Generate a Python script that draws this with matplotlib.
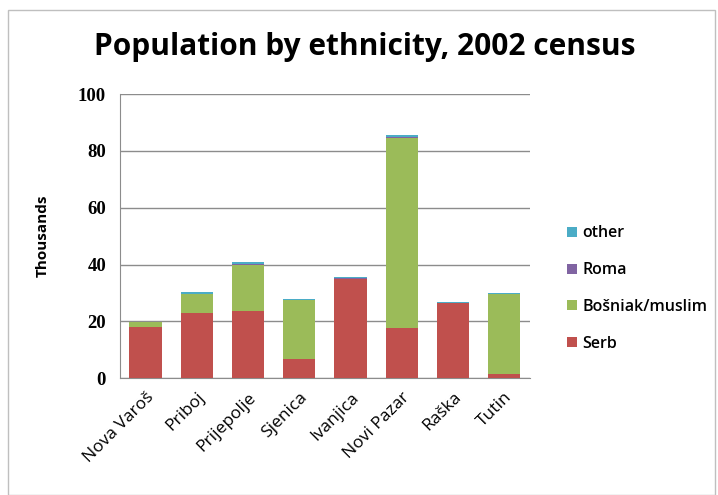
import matplotlib.pyplot as plt
import numpy as np
from matplotlib.patches import Rectangle

# Population by ethnicity (thousands), 2002 census
towns = ['Nova Varoš', 'Priboj', 'Prijepolje', 'Sjenica',
         'Ivanjica', 'Novi Pazar', 'Raška', 'Tutin']
serb = [18.1, 22.8, 23.5, 6.7, 34.9, 17.5, 26.3, 1.5]
bosniak = [1.6, 6.7, 16.5, 20.7, 0.1, 67.0, 0.1, 28.0]
roma = [0.0, 0.1, 0.1, 0.1, 0.2, 0.3, 0.1, 0.0]
other = [0.1, 0.7, 0.8, 0.3, 0.4, 0.8, 0.4, 0.4]

colors = {'Serb': '#C0504D', 'Bošniak/muslim': '#9BBB59',
          'Roma': '#8064A2', 'other': '#4BACC6'}

fig = plt.figure(figsize=(7.18, 4.95), dpi=100)
ax = fig.add_axes([0.167, 0.236, 0.571, 0.574])

x = np.arange(len(towns))
w = 0.63
bottom = np.zeros(len(towns))
bars = []
for name, vals in [('Serb', serb), ('Bošniak/muslim', bosniak),
                   ('Roma', roma), ('other', other)]:
    b = ax.bar(x, vals, w, bottom=bottom, color=colors[name], label=name, zorder=3)
    bars.append(b)
    bottom += np.array(vals)

ax.set_xlim(-0.5, len(towns) - 0.5)
ax.set_ylim(0, 100)
ax.set_yticks(range(0, 101, 20))
ax.yaxis.grid(True, color='#8c8c8c', linewidth=1, zorder=0)
for s in ['top', 'right']:
    ax.spines[s].set_visible(False)
ax.spines['left'].set_color('#8c8c8c')
ax.spines['bottom'].set_color('#8c8c8c')
ax.tick_params(axis='both', length=0)
ax.tick_params(axis='y', pad=10)
ax.tick_params(axis='x', pad=8)

ax.set_xticks(x)
ax.set_xticklabels(towns, rotation=45, ha='right', rotation_mode='anchor',
                   fontsize=12.5, family='Open Sans')
for lbl in ax.get_yticklabels():
    lbl.set_fontfamily('Liberation Serif')
    lbl.set_fontweight('bold')
    lbl.set_fontsize(13.5)

ax.set_ylabel('Thousands', fontsize=11, fontweight='bold', family='Open Sans', labelpad=20)

fig.text(0.508, 0.905, 'Population by ethnicity, 2002 census', ha='center', va='center',
         fontsize=21.5, fontweight='bold', family='Open Sans')

handles = bars[::-1]
leg = fig.legend(handles, [h.get_label() for h in handles], loc='center left',
                 bbox_to_anchor=(0.77, 0.417), frameon=False, labelspacing=1.3,
                 handlelength=0.6, handleheight=0.6, handletextpad=0.35,
                 prop={'family': 'Open Sans', 'size': 11.5, 'weight': 'semibold'})

fig.patches.append(Rectangle((0.011, 0.0), 0.985, 0.98, transform=fig.transFigure,
                             fill=False, edgecolor='#bfbfbf', linewidth=1))

fig.savefig('out.png', dpi=100)
